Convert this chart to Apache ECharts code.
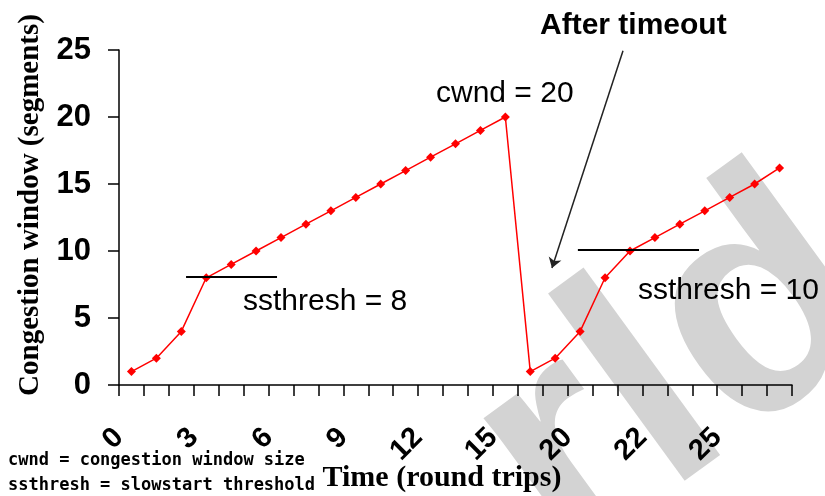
<!DOCTYPE html>
<html>
<head>
<meta charset="utf-8">
<script src="https://cdn.jsdelivr.net/npm/echarts@6/dist/echarts.min.js"></script>
<style>
  html, body { margin: 0; padding: 0; background: #fff; }
  #chart { width: 825px; height: 496px; }
</style>
</head>
<body>
<div id="chart"></div>
<script>
// congestion window per round trip
const cwnd = [1, 2, 4, 8, 9, 10, 11, 12, 13, 14, 15, 16, 17, 18, 19, 20,
  1, 2, 4, 8, 10, 11, 12, 13, 14, 15, 16.2]
// x tick labels, and the tick they sit on
const xTickAt = [0, 3, 6, 9, 12, 15, 18, 21, 24]
const xTickLabels = ['0', '3', '6', '9', '12', '15', '20', '22', '25']
const yTicks = [0, 5, 10, 15, 20, 25]

// ssthresh levels
const ssthresh1 = 8.1
const ssthresh2 = 10.1

const labelFont = "'Liberation Sans Narrow', 'Arial Narrow', 'Liberation Sans', Arial, sans-serif"
const serif = "'Liberation Serif', 'Times New Roman', serif"
const sans = "'Liberation Sans', Arial, sans-serif"

const chart = echarts.init(document.getElementById('chart'))

chart.setOption({
  animation: false,
  grid: { left: 119, right: 33, top: 50, bottom: 111 },
  xAxis: {
    type: 'value',
    min: 0,
    max: 27,
    interval: 1,
    splitLine: { show: false },
    axisLine: { lineStyle: { color: '#000', width: 1.5 } },
    axisTick: { length: 11, lineStyle: { color: '#000', width: 1.5 } },
    axisLabel: {
      rotate: 45,
      margin: 48,
      color: '#000',
      fontFamily: labelFont,
      fontWeight: 'bold',
      fontSize: 29,
      formatter: (v) => {
        const i = xTickAt.indexOf(v)
        return i >= 0 ? xTickLabels[i] : ''
      },
    },
  },
  yAxis: {
    type: 'value',
    min: yTicks[0],
    max: yTicks[yTicks.length - 1],
    interval: 5,
    splitLine: { show: false },
    axisLine: { show: true, lineStyle: { color: '#000', width: 1.5 } },
    axisTick: { show: true, length: 11, lineStyle: { color: '#000', width: 1.5 } },
    axisLabel: {
      margin: 28,
      color: '#000',
      fontFamily: labelFont,
      fontWeight: 'bold',
      fontSize: 31,
    },
  },
  graphic: [
    // faint watermark behind the plot
    {
      type: 'text', z: -10, x: 514, y: 496, rotation: 0.63,
      style: { text: 'rld', fill: '#d3d3d3', font: 'bold 320px ' + sans, align: 'left', verticalAlign: 'middle' },
    },
    {
      type: 'text', x: 31, y: 205, rotation: Math.PI / 2,
      style: { text: 'Congestion window (segments)', fill: '#000', font: 'bold 29px ' + serif, align: 'center', verticalAlign: 'middle' },
    },
    {
      type: 'text', x: 442, y: 478,
      style: { text: 'Time (round trips)', fill: '#000', font: 'bold 30px ' + serif, align: 'center', verticalAlign: 'middle' },
    },
    {
      type: 'text', x: 8, y: 461,
      style: { text: 'cwnd = congestion window size', fill: '#000', font: "bold 17px 'DejaVu Sans Mono', monospace", verticalAlign: 'middle' },
    },
    {
      type: 'text', x: 8, y: 486,
      style: { text: 'ssthresh = slowstart threshold', fill: '#000', font: "bold 17px 'DejaVu Sans Mono', monospace", verticalAlign: 'middle' },
    },
    {
      type: 'text', x: 436, y: 94,
      style: { text: 'cwnd = 20', fill: '#000', font: '30px ' + sans, verticalAlign: 'middle' },
    },
    {
      type: 'text', x: 540, y: 26,
      style: { text: 'After timeout', fill: '#000', font: 'bold 30px ' + sans, verticalAlign: 'middle' },
    },
    {
      type: 'text', x: 243, y: 302,
      style: { text: 'ssthresh = 8', fill: '#000', font: '30px ' + sans, verticalAlign: 'middle' },
    },
    {
      type: 'text', x: 638, y: 291,
      style: { text: 'ssthresh = 10', fill: '#000', font: '30px ' + sans, verticalAlign: 'middle' },
    },
  ],
  series: [
    {
      type: 'line',
      data: cwnd.map((v, i) => [i + 0.5, v]),
      symbol: 'diamond',
      symbolSize: 9,
      showAllSymbol: true,
      lineStyle: { color: '#ff0000', width: 1.5 },
      itemStyle: { color: '#ff0000' },
      markLine: {
        silent: true,
        symbol: 'none',
        label: { show: false },
        lineStyle: { color: '#000', width: 1.8, type: 'solid' },
        data: [
          [{ coord: [2.69, ssthresh1] }, { coord: [6.34, ssthresh1] }],
          [{ coord: [18.41, ssthresh2] }, { coord: [23.27, ssthresh2] }],
          [
            { coord: [20.22, 24.95], symbol: 'none', lineStyle: { color: '#222', width: 1.5 } },
            { coord: [17.37, 8.73], symbol: 'arrow', symbolSize: 10, lineStyle: { color: '#222', width: 1.5 } },
          ],
        ],
      },
    },
  ],
})
</script>
</body>
</html>
